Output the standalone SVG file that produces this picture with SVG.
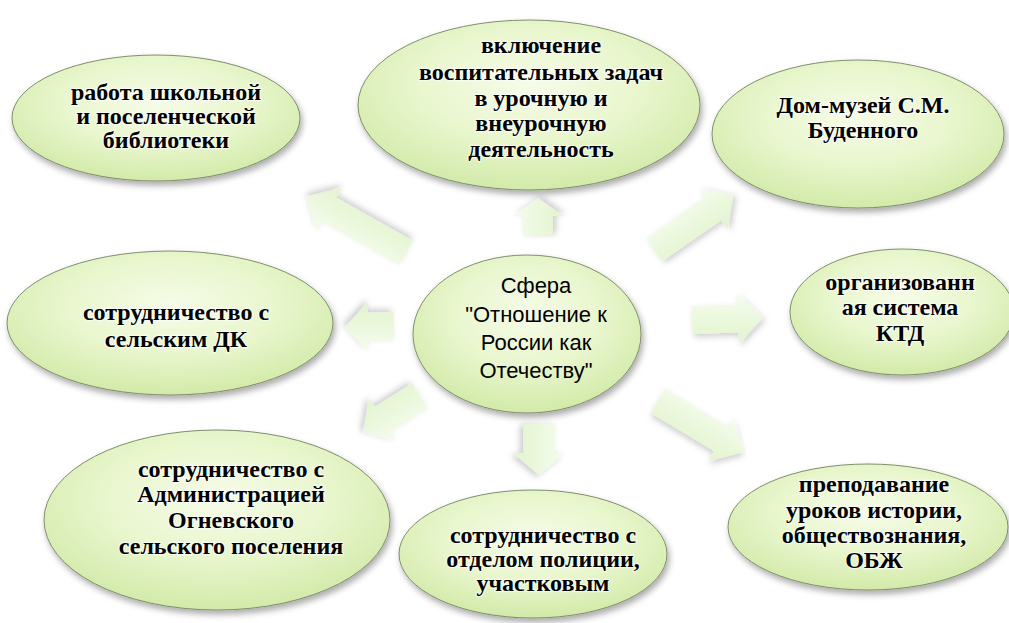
<svg xmlns="http://www.w3.org/2000/svg" width="1009" height="623" viewBox="0 0 1009 623">
<defs>
<radialGradient id="eg" cx="0.5" cy="0.38" r="0.62">
<stop offset="0" stop-color="#f6fce8"/>
<stop offset="0.55" stop-color="#e8f6cc"/>
<stop offset="1" stop-color="#d2eaa9"/>
</radialGradient>
<linearGradient id="ag" x1="0" y1="0" x2="0" y2="1">
<stop offset="0" stop-color="#f5fcee"/>
<stop offset="1" stop-color="#e2f4cd"/>
</linearGradient>
<filter id="sh" x="-20%" y="-20%" width="140%" height="150%">
<feDropShadow dx="2" dy="4" stdDeviation="3" flood-color="#000" flood-opacity="0.33"/>
</filter>
<filter id="ash" x="-30%" y="-30%" width="160%" height="160%">
<feDropShadow dx="2" dy="3" stdDeviation="3" flood-color="#000" flood-opacity="0.2"/>
</filter>
</defs>
<style>
.el{fill:url(#eg);stroke:#7f8e6b;stroke-width:1;filter:url(#sh)}
.ar{fill:url(#ag);filter:url(#ash)}
.t{font-family:"Liberation Serif","Times New Roman",serif;font-weight:bold;font-size:24px;fill:#000;text-anchor:middle;stroke:#fff;stroke-width:2.5px;stroke-opacity:0.6;paint-order:stroke}
.c{font-family:"Liberation Sans",Arial,sans-serif;font-size:22px;fill:#000;text-anchor:middle}
</style>
<rect width="1009" height="623" fill="#fff"/>
<g id="connectors">
<polygon class="ar" transform="translate(406,253) rotate(209.5)" points="0,-14 88,-14 88,-25 114,0 88,25 88,14 0,14"/>
<polygon class="ar" transform="translate(538,236) rotate(-90)" points="0,-15 20,-15 20,-25 38,0 20,25 20,15 0,15"/>
<polygon class="ar" transform="translate(654,250) rotate(-34.8)" points="0,-14 72,-14 72,-25 96,0 72,25 72,14 0,14"/>
<polygon class="ar" transform="translate(393,327) rotate(180)" points="0,-14.5 25,-14.5 25,-25 48,0 25,25 25,14.5 0,14.5"/>
<polygon class="ar" transform="translate(692,320) rotate(-2)" points="0,-14 46,-14 46,-25 71,0 46,25 46,14 0,14"/>
<polygon class="ar" transform="translate(420,396) rotate(147.7)" points="0,-15 44,-15 44,-25 67,0 44,25 44,15 0,15"/>
<polygon class="ar" transform="translate(539,423) rotate(90)" points="0,-16 30,-16 30,-26 52,0 30,26 30,16 0,16"/>
<polygon class="ar" transform="translate(658,401) rotate(31)" points="0,-14 74,-14 74,-25 99,0 74,25 74,14 0,14"/>
</g>
<g id="n-library">
<ellipse class="el" cx="156" cy="118" rx="144" ry="63"/>
<text class="t" x="166" y="100">работа школьной</text>
<text class="t" x="166" y="124">и поселенческой</text>
<text class="t" x="166" y="148">библиотеки</text>
</g>
<g id="n-lessons">
<ellipse class="el" cx="529" cy="105" rx="171" ry="85"/>
<text class="t" x="541" y="53">включение</text>
<text class="t" x="541" y="80">воспитательных задач</text>
<text class="t" x="541" y="106">в урочную и</text>
<text class="t" x="541" y="131">внеурочную</text>
<text class="t" x="541" y="157">деятельность</text>
</g>
<g id="n-museum">
<ellipse class="el" cx="858" cy="134" rx="146" ry="74"/>
<text class="t" x="863" y="113">Дом-музей С.М.</text>
<text class="t" x="863" y="138">Буденного</text>
</g>
<g id="n-ktd">
<ellipse class="el" cx="902" cy="312" rx="112" ry="63"/>
<text class="t" x="900" y="290">организованн</text>
<text class="t" x="900" y="315">ая система</text>
<text class="t" x="900" y="341">КТД</text>
</g>
<g id="n-dk">
<ellipse class="el" cx="170" cy="323" rx="163" ry="72"/>
<text class="t" x="176" y="320">сотрудничество с</text>
<text class="t" x="176" y="347">сельским ДК</text>
</g>
<g id="n-center">
<ellipse class="el" cx="527" cy="334" rx="114" ry="79"/>
<text class="c" x="536" y="293">Сфера</text>
<text class="c" x="536" y="322">"Отношение к</text>
<text class="c" x="536" y="350">России как</text>
<text class="c" x="536" y="378">Отечеству"</text>
</g>
<g id="n-admin">
<ellipse class="el" cx="217" cy="520" rx="173" ry="90"/>
<text class="t" x="231" y="477">сотрудничество с</text>
<text class="t" x="231" y="502">Администрацией</text>
<text class="t" x="231" y="528">Огневского</text>
<text class="t" x="231" y="554">сельского поселения</text>
</g>
<g id="n-police">
<ellipse class="el" cx="533" cy="554" rx="134" ry="64"/>
<text class="t" x="543" y="543">сотрудничество с</text>
<text class="t" x="543" y="567">отделом полиции,</text>
<text class="t" x="543" y="591">участковым</text>
</g>
<g id="n-teaching">
<ellipse class="el" cx="868" cy="527" rx="140" ry="63"/>
<text class="t" x="874" y="492">преподавание</text>
<text class="t" x="874" y="518">уроков истории,</text>
<text class="t" x="874" y="543">обществознания,</text>
<text class="t" x="874" y="568">ОБЖ</text>
</g>
</svg>
